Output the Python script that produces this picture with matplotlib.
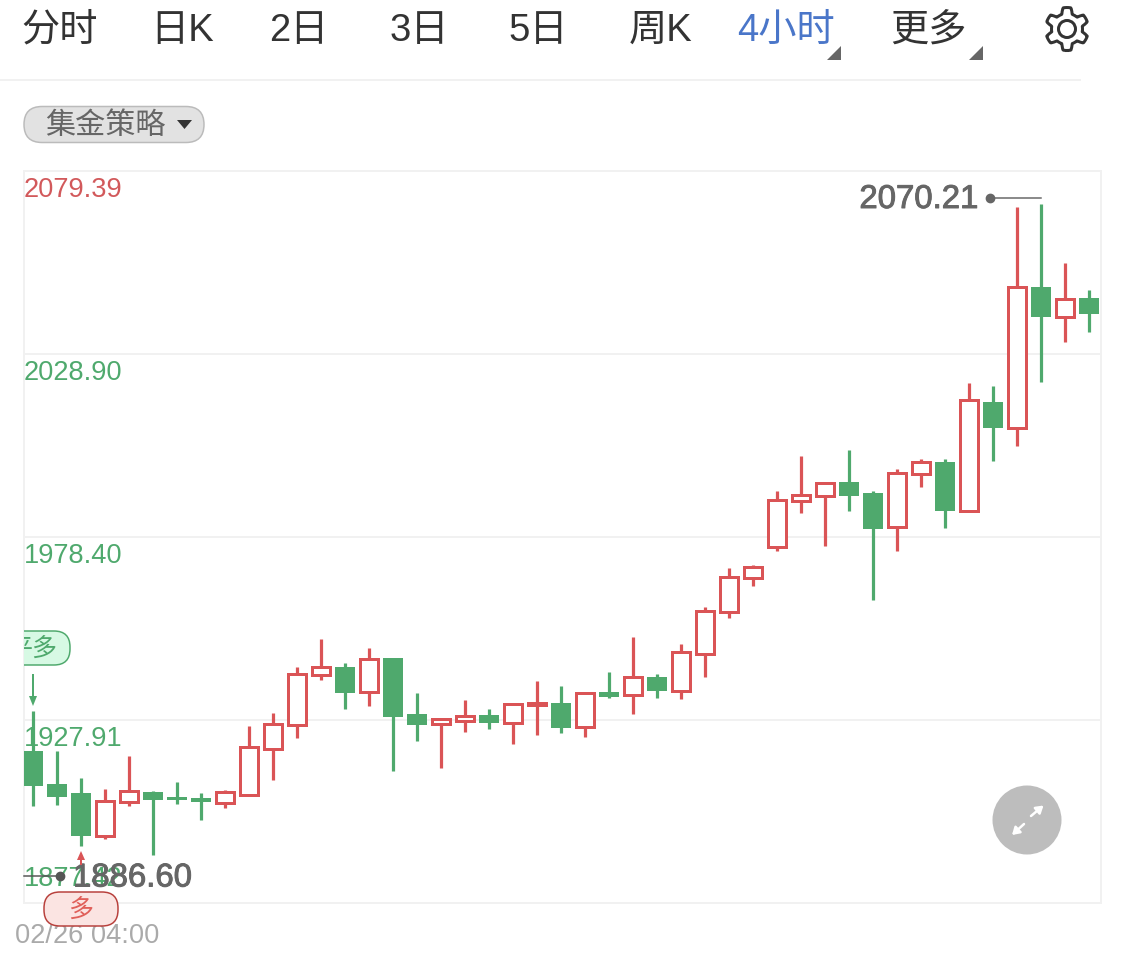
import numpy as np
import matplotlib
matplotlib.use('Agg')
import matplotlib.pyplot as plt
from matplotlib.patches import FancyBboxPatch, Polygon, Circle
import matplotlib.patheffects as pe

plt.rcParams['font.family'] = ['Liberation Sans', 'Noto Sans CJK SC', 'DejaVu Sans']

# 4 hour candles
opens = [1919.36, 1910.25, 1907.77, 1895.91, 1905.29, 1908.04, 1906.67, 1906.39, 1905.01, 1907.22,
         1919.91, 1926.53, 1940.33, 1942.54, 1935.64, 1945.02, 1929.57, 1926.81, 1927.64, 1929.29,
         1927.08, 1932.05, 1932.60, 1925.98, 1935.64, 1934.81, 1939.78, 1935.91, 1946.12, 1957.71,
         1967.09, 1975.65, 1988.34, 1989.72, 1993.58, 1990.55, 1981.16, 1995.79, 1999.10, 1985.58,
         2015.65, 2008.48, 2047.38, 2039.11, 2044.35]
highs = [1930.40, 1919.36, 1911.91, 1908.87, 1917.98, 1908.32, 1910.81, 1907.77, 1908.60, 1926.26,
         1929.84, 1942.54, 1950.26, 1943.64, 1947.78, 1945.02, 1935.36, 1928.46, 1933.43, 1930.95,
         1932.33, 1938.67, 1937.29, 1935.64, 1941.16, 1950.81, 1940.60, 1948.88, 1959.09, 1969.85,
         1970.68, 1991.10, 2000.75, 1993.30, 2002.41, 1991.10, 1997.17, 1999.93, 1999.93, 2020.90,
         2020.07, 2069.46, 2070.28, 2054.01, 2046.56]
lows = [1904.18, 1904.46, 1893.15, 1895.08, 1904.18, 1890.66, 1904.74, 1900.32, 1903.63, 1906.94,
        1911.36, 1922.95, 1938.95, 1930.95, 1931.78, 1913.84, 1922.12, 1914.67, 1924.60, 1925.43,
        1921.29, 1923.77, 1924.33, 1923.22, 1933.98, 1929.57, 1933.98, 1933.71, 1939.78, 1956.06,
        1964.89, 1974.54, 1985.03, 1975.92, 1985.58, 1961.02, 1974.54, 1992.20, 1980.89, 1985.30,
        1999.37, 2003.51, 2021.17, 2032.21, 2034.97]
closes = [1909.70, 1906.67, 1895.91, 1905.56, 1908.32, 1905.84, 1905.84, 1905.29, 1908.04, 1920.46,
          1926.81, 1940.60, 1942.54, 1935.36, 1944.74, 1928.74, 1926.53, 1928.19, 1929.02, 1927.08,
          1932.33, 1932.60, 1925.71, 1935.36, 1934.26, 1939.78, 1935.91, 1946.67, 1957.99, 1967.37,
          1970.13, 1988.61, 1989.99, 1993.30, 1989.72, 1980.61, 1996.06, 1999.10, 1985.58, 2016.21,
          2008.48, 2047.38, 2039.11, 2044.07, 2039.93]

price_ticks = [2079.39, 2028.90, 1978.40, 1927.91, 1877.42]
tick_colors = ['#d2595b', '#4fa96d', '#4fa96d', '#4fa96d', '#4fa96d']
tab_labels = ['分时', '日K', '2日', '3日', '5日', '周K', '4小时', '更多']
high_label = '2070.21'
low_label = '1886.60'
start_label = '02/26 04:00'

RED = '#da5456'
GREEN = '#4fa96d'
LINE = '#f1f1f1'

W, H = 1125, 961
fig = plt.figure(figsize=(W / 100, H / 100), dpi=100, facecolor='white')
px = 0.72  # one pixel in points

# chart area
ax = fig.add_axes([24 / W, (H - 903) / H, 1077 / W, 732 / H])
ax.set_xlim(-0.375, 44.5)
ax.set_ylim(price_ticks[-1], price_ticks[0])
ax.set_yticks(price_ticks)
ax.set_xticks([])
ax.tick_params(left=False, labelleft=False)
ax.grid(axis='y', color=LINE, linewidth=2 * px)
ax.set_axisbelow(True)
for s in ax.spines.values():
    s.set_color(LINE)
    s.set_linewidth(2 * px)

# candles, hollow red when up and solid green when down
for i in range(len(opens)):
    top = max(opens[i], closes[i])
    bottom = min(opens[i], closes[i])
    if closes[i] >= opens[i]:
        ax.vlines(i, top, highs[i], color=RED, linewidth=3.2 * px, zorder=3)
        ax.vlines(i, lows[i], bottom, color=RED, linewidth=3.2 * px, zorder=3)
        ax.bar(i, top - bottom, bottom=bottom, width=18 / 24, facecolor='white',
               edgecolor=RED, linewidth=3 * px, zorder=4)
    else:
        ax.vlines(i, lows[i], highs[i], color=GREEN, linewidth=3.2 * px, zorder=3)
        ax.bar(i, top - bottom, bottom=bottom, width=20.7 / 24, color=GREEN, linewidth=0, zorder=4)

# overlay in picture pixels for the app furniture
ui = fig.add_axes([0, 0, 1, 1], facecolor='none')
ui.set_xlim(0, W)
ui.set_ylim(H, 0)
ui.axis('off')

# price labels
for p, c, y in zip(price_ticks, tick_colors, [190, 373, 556, 739, 879]):
    ui.text(24, y, '%.2f' % p, color=c, fontsize=19.6, ha='left', va='center', zorder=1)

# tabs
tab_x = [60, 182, 299, 419, 538.5, 660.5, 786.5, 928]
for t, x in zip(tab_labels, tab_x):
    col = '#4a76c9' if t == '4小时' else '#333333'
    ui.text(x, 31, t, color=col, fontsize=27.5, ha='center', va='center')
for x in [841, 983]:
    ui.add_patch(Polygon([[x, 46], [x, 60], [x - 14, 60]], closed=True, facecolor='#666666', edgecolor='none'))
ui.plot([0, 1080], [80, 80], color=LINE, linewidth=2 * px)

# settings gear
ang = np.linspace(0, 2 * np.pi, 200)
rad = 18.5 + 3 * np.clip(2.2 * np.cos(6 * ang), -1, 1)
ui.plot(1067 + rad * np.sin(ang), 29 + rad * np.cos(ang), color='#333333', linewidth=3 * px)
ui.add_patch(Circle((1067, 29), 8.5, facecolor='none', edgecolor='#333333', linewidth=3 * px))

# strategy selector
ui.add_patch(FancyBboxPatch((24 + 18, 106.5 + 18), 180 - 36, 36 - 36, boxstyle='round,pad=18',
                            facecolor='#e2e2e2', edgecolor='#bbbbbb', linewidth=1.5 * px))
ui.text(105, 126.5, '集金策略', color='#666666', fontsize=21.7, ha='center', va='center')
ui.add_patch(Polygon([[177, 120], [192, 120], [184.5, 129]], closed=True, facecolor='#333333', edgecolor='none'))

# high and low callouts
ui.plot([990, 1041], [197.5, 197.5], color='#666666', linewidth=1.5 * px, zorder=6)
ui.plot([990], [197.5], 'o', color='#666666', markersize=6, zorder=6)
ui.text(978, 199.5, high_label, color='#666666', fontsize=23.7, ha='right', va='center', zorder=6,
        path_effects=[pe.withStroke(linewidth=0.7, foreground='#666666')])
ui.plot([24, 60], [876, 876], color='#555555', linewidth=1.5 * px, zorder=6)
ui.plot([60], [876], 'o', color='#555555', markersize=6, zorder=6)
ui.text(73, 878, low_label, color='#666666', fontsize=23.7, ha='left', va='center', zorder=6,
        path_effects=[pe.withStroke(linewidth=0.7, foreground='#666666')])

# buy signal under the low candle
ui.plot([81, 81], [858, 864], color=RED, linewidth=2 * px, zorder=6)
ui.add_patch(Polygon([[81, 851], [85, 860], [77, 860]], closed=True, facecolor=RED, edgecolor='none', zorder=6))
ui.add_patch(FancyBboxPatch((44 + 16, 892 + 16), 74 - 32, 34 - 32, boxstyle='round,pad=16',
                            facecolor='#fbe4e2', edgecolor='#b8403c', linewidth=1.5 * px, zorder=6))
ui.text(81, 910, '多', color='#e0605a', fontsize=18, ha='center', va='center', zorder=7)

# close signal on the first candle, cut by the chart edge
badge = FancyBboxPatch((-4 + 16, 631 + 16), 74 - 32, 34 - 32, boxstyle='round,pad=16',
                       facecolor='#d7f9e4', edgecolor='#4fa96d', linewidth=1.5 * px, zorder=6)
ui.add_patch(badge)
badge.set_clip_path(ax.patch)
t = ui.text(33, 649, '平多', color='#4fa96d', fontsize=18, ha='center', va='center', zorder=7, clip_on=True)
t.set_clip_path(ax.patch)
ui.plot([33, 33], [675, 700], color=GREEN, linewidth=2 * px, zorder=6)
ui.add_patch(Polygon([[33, 706], [37, 696], [29, 696]], closed=True, facecolor=GREEN, edgecolor='none', zorder=6))

# time under the chart
ui.text(15, 936, start_label, color='#aaaaaa', fontsize=19.6, ha='left', va='center')

# fullscreen button
ui.add_patch(Circle((1027, 820), 34.5, facecolor='#bdbdbd', edgecolor='none', zorder=6))
for a, b in [((1031, 816), (1043.5, 805.5)), ((1024, 824), (1012, 835))]:
    ui.annotate('', xy=b, xytext=a, zorder=7,
                arrowprops=dict(arrowstyle='-|>,head_width=0.22,head_length=0.35', color='white',
                                linewidth=2.5 * px, shrinkA=0, shrinkB=0, mutation_scale=12))

fig.savefig('out.png', dpi=100)
